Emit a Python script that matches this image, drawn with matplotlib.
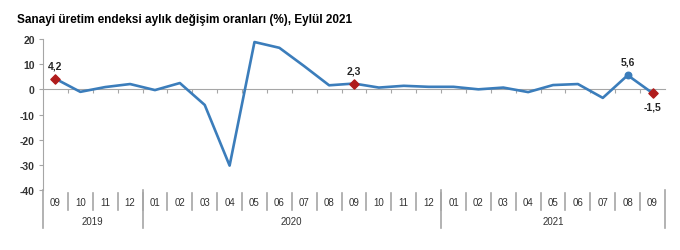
import matplotlib
matplotlib.use("Agg")
import matplotlib.pyplot as plt
from matplotlib.transforms import blended_transform_factory

plt.rcParams['font.family'] = ['Liberation Sans', 'DejaVu Sans']

months = ["09", "10", "11", "12",
          "01", "02", "03", "04", "05", "06", "07", "08", "09", "10", "11", "12",
          "01", "02", "03", "04", "05", "06", "07", "08", "09"]
years = ["2019", "2020", "2021"]
year_counts = [4, 12, 9]
values = [4.2, -1.0, 0.9, 2.1, -0.3, 2.5, -6.2, -30.3, 18.8, 16.5, 9.2, 1.6, 2.3,
          0.7, 1.4, 1.0, 1.0, 0.0, 0.7, -1.1, 1.7, 2.1, -3.4, 5.6, -1.5]
red_idx = [0, 12, 24]
blue_idx = [23]
yticks = [20, 10, 0, -10, -20, -30, -40]

line_color = "#3b7dbb"
red = "#b01c1c"
gray = "#a6a6a6"

fig = plt.figure(figsize=(6.8, 2.51), dpi=100)
ax = fig.add_axes([43/680, 1-191/251, (665-43)/680, (191-40)/251])
x = list(range(len(values)))
ax.plot(x, values, color=line_color, lw=1.9, zorder=3)
ax.scatter([x[i] for i in red_idx], [values[i] for i in red_idx], marker="D",
           s=22, color=red, zorder=4)
ax.scatter([x[i] for i in blue_idx], [values[i] for i in blue_idx], marker="o",
           s=22, color=line_color, zorder=4)

def fmt(v):
    return ("%.1f" % v).replace(".", ",")

for i in red_idx + blue_idx:
    v = values[i]
    if v >= 0:
        ax.annotate(fmt(v), (x[i], v), xytext=(0, 6), textcoords="offset points",
                    ha="center", va="bottom", fontsize=7.5, fontweight="bold", color="#262626")
    else:
        ax.annotate(fmt(v), (x[i], v), xytext=(0, -6), textcoords="offset points",
                    ha="center", va="top", fontsize=7.5, fontweight="bold", color="#262626")

ax.set_xlim(-0.5, len(values) - 0.5)
ax.set_ylim(-40, 20)
ax.set_yticks(yticks)
ax.set_yticklabels([str(t) for t in yticks], fontsize=7.5, fontweight="bold", color="#333333")
ax.tick_params(axis="y", length=3, color=gray, pad=3)
for s in ["top", "right"]:
    ax.spines[s].set_visible(False)
ax.spines["left"].set_color(gray)
ax.spines["bottom"].set_position(("data", 0))
ax.spines["bottom"].set_color(gray)
ax.set_xticks([i + 0.5 for i in range(len(values) - 1)])
ax.set_xticklabels([])
ax.tick_params(axis="x", length=3, color=gray, direction="out")

trans = blended_transform_factory(ax.transData, ax.transAxes)
h = 151
for i, m in enumerate(months):
    ax.text(i, -12/h, m, transform=trans, ha="center", va="center",
            fontsize=7, color="#333333")
# separators
for i in range(1, len(months)):
    ax.plot([i - 0.5, i - 0.5], [-3/h, -20/h], transform=trans, color=gray,
            lw=1.2, clip_on=False)
bounds = [-0.5]
for c in year_counts:
    bounds.append(bounds[-1] + c)
for b in bounds:
    ax.plot([b, b], [0, -38/h], transform=trans, color=gray, lw=1.2, clip_on=False)
for j, yr in enumerate(years):
    ax.text((bounds[j] + bounds[j + 1]) / 2, -31/h, yr, transform=trans,
            ha="center", va="center", fontsize=7, color="#333333")

fig.text(17/680, 1-20/251, "Sanayi üretim endeksi aylık değişim oranları (%), Eylül 2021",
         fontsize=8.5, fontweight="bold", va="center", ha="left", color="black")

fig.savefig("out.png", dpi=100, facecolor="white")
